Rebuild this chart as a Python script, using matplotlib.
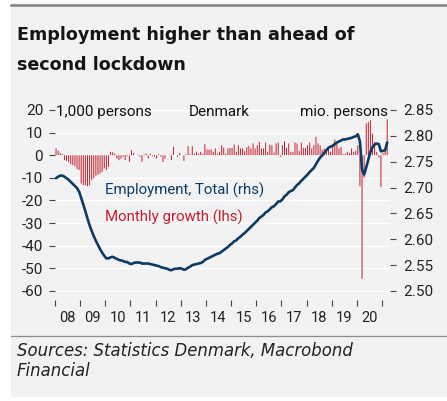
import numpy as np
import pandas as pd
import matplotlib
matplotlib.use("Agg")
import matplotlib.pyplot as plt
from matplotlib.patches import Rectangle
from matplotlib.lines import Line2D

plt.rcParams['font.family'] = ['Roboto', 'DejaVu Sans']
plt.rcParams['axes.unicode_minus'] = False

# Monthly data, Jan 2008 - Mar 2021
first_month = "2008-01"

# Employment, total (mio. persons, right axis)
employment = [
    2.718, 2.721, 2.723, 2.723, 2.721, 2.718, 2.715, 2.711, 2.707, 2.703, 2.699, 2.692,
    2.680, 2.667, 2.654, 2.640, 2.627, 2.616, 2.606, 2.597, 2.589, 2.581, 2.574, 2.568,
    2.563, 2.563, 2.565, 2.566, 2.564, 2.562, 2.560, 2.559, 2.558, 2.556, 2.556, 2.553,
    2.552, 2.554, 2.555, 2.555, 2.555, 2.553, 2.553, 2.553, 2.553, 2.552, 2.551, 2.550,
    2.549, 2.548, 2.546, 2.545, 2.544, 2.543, 2.541, 2.540, 2.542, 2.543, 2.543, 2.544,
    2.543, 2.541, 2.542, 2.545, 2.547, 2.550, 2.551, 2.552, 2.553, 2.554, 2.556, 2.560,
    2.562, 2.564, 2.566, 2.568, 2.570, 2.572, 2.573, 2.576, 2.579, 2.582, 2.585, 2.589,
    2.592, 2.596, 2.598, 2.602, 2.605, 2.609, 2.612, 2.616, 2.620, 2.624, 2.628, 2.632,
    2.636, 2.641, 2.644, 2.647, 2.652, 2.654, 2.658, 2.662, 2.664, 2.668, 2.673, 2.673,
    2.677, 2.683, 2.686, 2.691, 2.693, 2.695, 2.700, 2.705, 2.708, 2.713, 2.717, 2.721,
    2.725, 2.730, 2.734, 2.738, 2.745, 2.752, 2.758, 2.762, 2.767, 2.772, 2.777, 2.779,
    2.781, 2.784, 2.787, 2.789, 2.791, 2.793, 2.793, 2.794, 2.795, 2.796, 2.798, 2.799,
    2.803, 2.789, 2.735, 2.725, 2.739, 2.754, 2.769, 2.778, 2.783, 2.785, 2.784, 2.770,
    2.771, 2.772, 2.787,
]

# Monthly growth (1,000 persons, left axis)
growth = [
    3.0, 2.0, 1.0, 0.5, -2.2, -2.5, -3.0, -4.0, -4.4, -4.9, -6.2, -6.6,
    -12.5, -13.3, -13.3, -13.7, -13.3, -11.0, -10.3, -9.0, -8.6, -8.1, -7.4, -5.9,
    -6.6, -5.2, 1.5, 1.3, 0.7, -1.5, -2.2, -1.5, -0.7, -2.2, -0.4, -3.0,
    2.2, 1.0, 0.0, 0.3, -0.7, -2.9, 0.4, 0.7, -1.5, 0.7, -0.4, -0.7,
    -1.5, 0.4, -0.7, -3.0, -1.5, 0.0, 0.2, -2.2, 3.7, 0.0, -0.7, 1.0,
    0.0, -2.5, 0.4, 4.0, 0.4, 4.0, 0.7, 1.5, 0.7, 1.5, 0.7, 4.9,
    2.5, 2.5, 2.5, 1.5, 3.0, 0.7, 1.5, 4.4, 3.4, 0.7, 3.0, 3.2,
    3.2, 4.7, 1.5, 4.4, 3.0, 3.0, 1.8, 3.5, 4.1, 3.0, 5.2, 3.0,
    4.4, 5.9, 3.0, 3.0, 5.6, 1.5, 4.7, 4.4, 1.2, 5.2, 5.6, -0.7,
    4.4, 6.2, 3.2, 5.2, 1.5, 1.5, 5.6, 5.2, 1.8, 5.6, 3.2, 3.2,
    4.4, 5.6, 3.0, 4.4, 8.1, 5.2, 4.4, 2.5, 2.9, 2.2, 3.4, 1.5,
    4.0, 6.9, 5.2, 3.0, 3.7, 0.4, 0.7, 1.5, 1.0, 3.0, 1.5, 2.0,
    4.4, -13.7, -54.6, -10.0, 14.0, 14.7, 15.5, 9.6, 5.9, 1.5, -1.0, -14.0,
    1.0, 2.0, 15.8,
]

year_labels = ["08", "09", "10", "11", "12", "13", "14", "15", "16", "17", "18", "19", "20"]
left_ticks = [20, 10, 0, -10, -20, -30, -40, -50, -60]
right_ticks = [2.85, 2.80, 2.75, 2.70, 2.65, 2.60, 2.55, 2.50]

title_lines = ["Employment higher than ahead of", "second lockdown"]
source_lines = ["Sources: Statistics Denmark, Macrobond", "Financial"]

NAVY = "#0d3b63"
RED = "#c41e2e"
BG = "#f2f2f2"

# time axis in fractional years (mid-month)
dates = pd.date_range(first_month, periods=len(employment), freq="MS")
t = dates.year + (dates.month - 0.5) / 12.0

W, H = 447, 401
fig = plt.figure(figsize=(W / 100, H / 100), dpi=100)
fig.patch.set_facecolor("white")


def fx(x):
    return x / W


def fy(y):
    return 1 - y / H


fig.add_artist(Rectangle((fx(11), fy(397)), 1 - fx(11), fy(3) - fy(397),
                         transform=fig.transFigure, facecolor=BG,
                         edgecolor="none", zorder=-10))
fig.add_artist(Line2D([fx(11), 1], [fy(4.5), fy(4.5)], color="#808080",
                      lw=1.8, transform=fig.transFigure))
fig.add_artist(Line2D([fx(11), 1], [fy(335.5), fy(335.5)], color="#8c8c8c",
                      lw=0.9, transform=fig.transFigure))

for i, line in enumerate(title_lines):
    fig.text(fx(17), fy(39.5 + 30 * i), line, fontsize=12.6, fontweight="bold",
             family="DejaVu Sans", color="#151515", va="baseline", ha="left")

for i, line in enumerate(source_lines):
    fig.text(fx(17), fy(356.5 + 20 * i), line, fontsize=11.9, style="italic",
             family="DejaVu Sans", color="#222222", va="baseline", ha="left")

ax = fig.add_axes([fx(55), fy(300), fx(390) - fx(55), fy(100) - fy(300)])
ax.set_facecolor("none")
ax.bar(t, growth, width=0.47 / 12, color=RED, linewidth=0, snap=False, zorder=2)

lo, hi = -64.0, 24.4
ax.set_ylim(lo, hi)
ax.set_xlim(2008.04, 2021.32)
ax.set_yticks(left_ticks)
ax.set_yticklabels([f"{v:d}" for v in left_ticks])
ax.grid(axis="y", color="white", lw=1.0, zorder=0)
ax.set_axisbelow(True)

years = np.arange(2008, 2022)
ax.set_xticks(years)
ax.set_xticklabels([])
ax.set_xticks(years[:-1] + 0.5, minor=True)
ax.set_xticklabels(year_labels, minor=True)
ax.tick_params(axis="x", which="major", length=4, width=0.8, color="#444444", direction="out")
ax.tick_params(axis="x", which="minor", length=0, pad=7.8, labelsize=10.5, labelcolor="#222222")
ax.tick_params(axis="y", length=4, width=0.8, color="#444444", pad=4.5,
               labelsize=11, labelcolor="#222222")

ax2 = ax.twinx()
ax2.plot(t, employment, color=NAVY, lw=1.9, solid_capstyle="round", zorder=3)


def to_right(v):
    return 2.85 + (v - 20) * 0.35 / 80


ax2.set_ylim(to_right(lo), to_right(hi))
ax2.set_yticks(right_ticks)
ax2.set_yticklabels([f"{v:.2f}" for v in right_ticks])
ax2.tick_params(axis="y", length=4, width=0.8, color="#444444", pad=5.5,
                labelsize=11, labelcolor="#222222")

for a in (ax, ax2):
    for s in a.spines.values():
        s.set_visible(False)

fig.text(fx(56), fy(116), "1,000 persons", fontsize=11, color="#111111", va="baseline")
fig.text(fx(189), fy(116), "Denmark", fontsize=11, color="#111111", va="baseline")
fig.text(fx(388), fy(116), "mio. persons", fontsize=11, color="#111111",
         va="baseline", ha="right")

fig.text(fx(105), fy(195), "Employment, Total (rhs)", fontsize=10.8, color=NAVY, va="baseline")
fig.text(fx(105), fy(222), "Monthly growth (lhs)", fontsize=10.8, color=RED, va="baseline")

fig.savefig("out.png", dpi=100, facecolor=fig.get_facecolor())
